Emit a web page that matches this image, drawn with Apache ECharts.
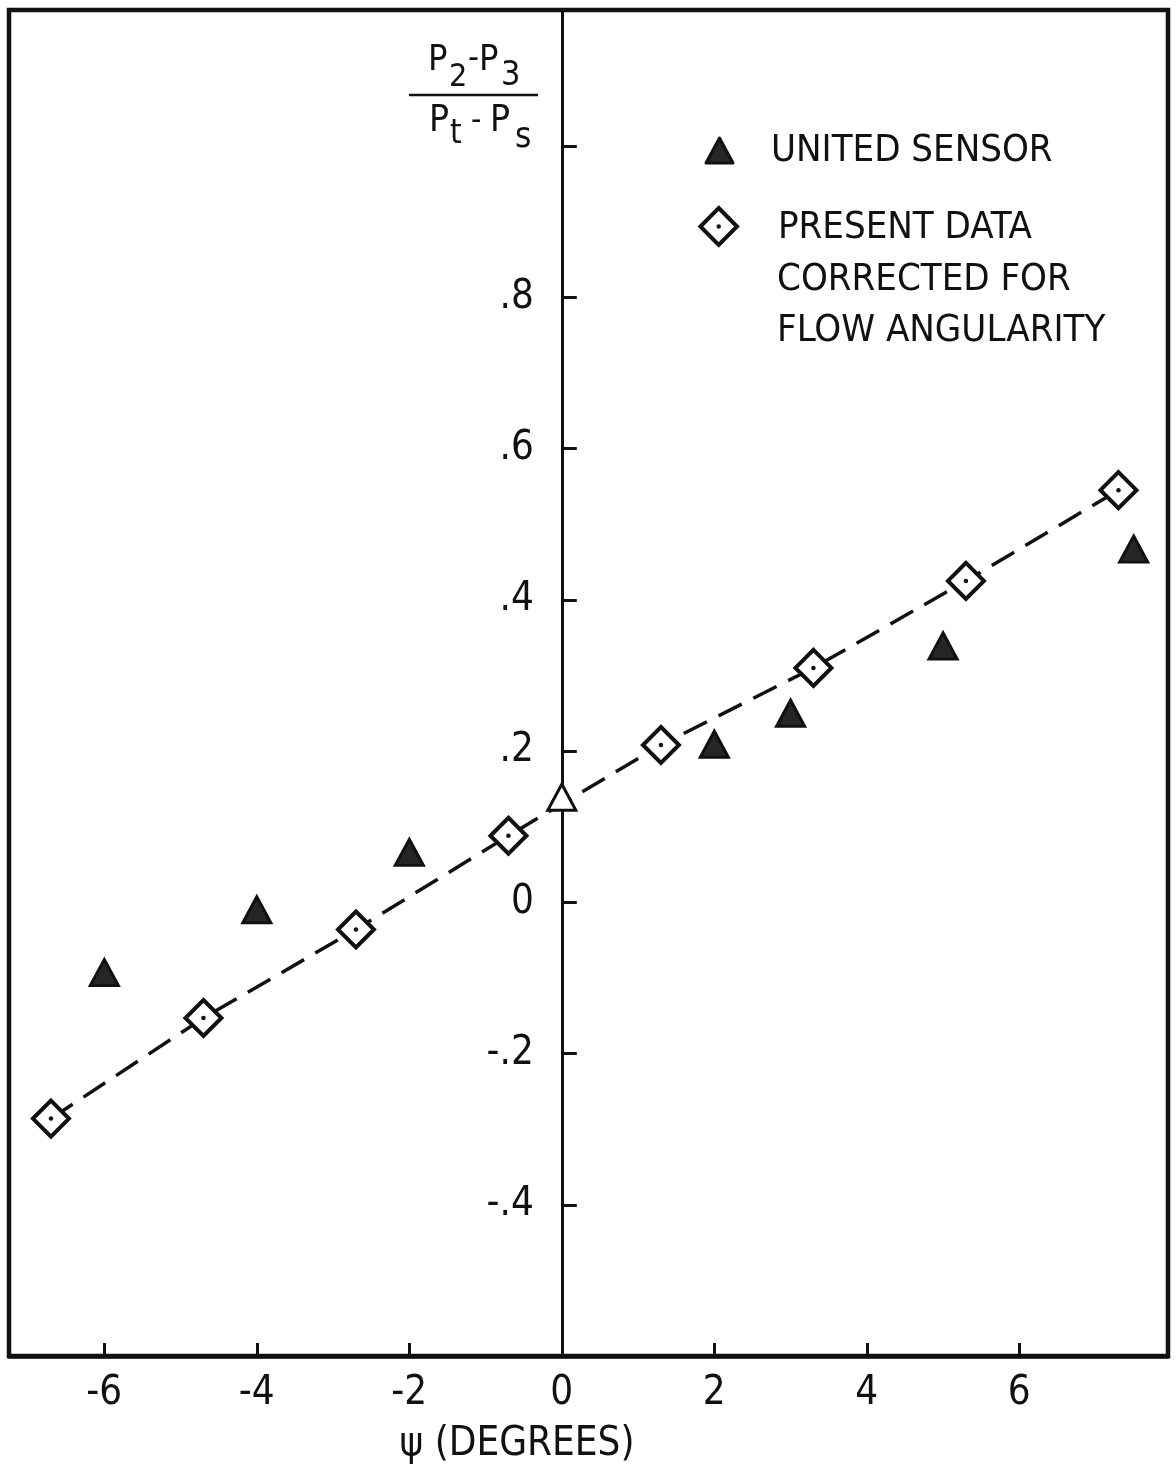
<!DOCTYPE html>
<html>
<head>
<meta charset="utf-8">
<title>Differential pressure coefficient vs flow angle</title>
<script src="https://cdn.jsdelivr.net/npm/echarts@6/dist/echarts.min.js"></script>
<style>
  html, body { margin: 0; padding: 0; background: #fff; }
  #chart { width: 1176px; height: 1469px; }
</style>
</head>
<body>
<div id="chart"></div>
<script>
// United Sensor probe readings: psi (deg) and (P2-P3)/(Pt-Ps)
const unitedPsi = [-6, -4, -2, 0, 2, 3, 5, 7.5];
const unitedCoef = [-0.093, -0.010, 0.066, 0.139, 0.209, 0.250, 0.339, 0.467];

// Present data, corrected for flow angularity
const presentPsi = [-6.7, -4.7, -2.7, -0.7, 1.3, 3.3, 5.3, 7.3];
const presentCoef = [-0.286, -0.153, -0.036, 0.088, 0.208, 0.310, 0.425, 0.545];

// Axis ticks and labels
const xTicks = [-6, -4, -2, 0, 2, 4, 6];
const yTicks = [-0.4, -0.2, 0, 0.2, 0.4, 0.6, 0.8, 1.0];
const yLabels = [-0.4, -0.2, 0, 0.2, 0.4, 0.6, 0.8];

const FONT = "'DejaVu Sans Condensed', 'Liberation Sans Narrow', 'DejaVu Sans', sans-serif";

const X_MIN = -7.25, X_MAX = 7.95;
const Y_MIN = -0.6, Y_MAX = 1.18;
const GRID = { left: 9, top: 10, width: 1159, height: 1346 };

const unitedData = unitedPsi.map((x, i) => [x, unitedCoef[i]]);
const presentData = presentPsi.map((x, i) => [x, presentCoef[i]]);

// the vertical axis is drawn through psi = 0
const yAxisShift = -((0 - X_MIN) / (X_MAX - X_MIN)) * GRID.width;

function fmtY(v) {
  if (Math.abs(v) < 1e-9) return '0';
  const s = Math.abs(v).toFixed(1).replace(/^0/, '');
  return (v < 0 ? '-' : '') + s;
}

const chart = echarts.init(document.getElementById('chart'), null, { renderer: 'canvas' });

const txt = (text, x, y, size, align) => ({
  type: 'text',
  x: x, y: y,
  silent: true,
  style: {
    text: text,
    fill: '#111',
    font: size + 'px ' + FONT,
    textAlign: align || 'left',
    textVerticalAlign: 'middle'
  }
});

chart.setOption({
  animation: false,
  backgroundColor: '#fff',
  textStyle: { fontFamily: FONT, color: '#111' },
  grid: {
    left: GRID.left, top: GRID.top, width: GRID.width, height: GRID.height,
    containLabel: false,
    outerBoundsMode: 'none',
    show: true, borderColor: '#111', borderWidth: 4.5,
    backgroundColor: 'transparent'
  },
  xAxis: {
    type: 'value',
    min: X_MIN, max: X_MAX,
    position: 'bottom',
    axisLine: { onZero: false, lineStyle: { color: '#111', width: 4.5 } },
    axisTick: { inside: true, length: 13, customValues: xTicks, lineStyle: { color: '#111', width: 3 } },
    axisLabel: { customValues: xTicks, fontSize: 40, color: '#111', margin: 18, fontFamily: FONT },
    splitLine: { show: false }
  },
  yAxis: {
    type: 'value',
    min: Y_MIN, max: Y_MAX,
    position: 'left',
    offset: yAxisShift,
    axisLine: { show: true, onZero: false, lineStyle: { color: '#111', width: 3 } },
    axisTick: { show: true, inside: true, length: 15, customValues: yTicks, lineStyle: { color: '#111', width: 3 } },
    axisLabel: { customValues: yLabels, formatter: fmtY, fontSize: 40, color: '#111', margin: 28, fontFamily: FONT },
    splitLine: { show: false }
  },
  series: [
    {
      name: 'PRESENT DATA',
      type: 'line',
      data: presentData,
      symbol: 'diamond',
      symbolSize: 36,
      showAllSymbol: true,
      lineStyle: { color: '#111', width: 3.5, type: [26, 13] },
      itemStyle: { color: '#fff', borderColor: '#111', borderWidth: 4, opacity: 1 },
      z: 3
    },
    {
      name: 'PRESENT DATA center',
      type: 'scatter',
      data: presentData,
      symbol: 'circle',
      symbolSize: 4.5,
      itemStyle: { color: '#111', opacity: 1 },
      z: 4
    },
    {
      name: 'UNITED SENSOR',
      type: 'scatter',
      data: unitedData,
      symbol: 'triangle',
      symbolSize: [28, 26],
      itemStyle: {
        color: p => (p.value[0] === 0 ? '#fff' : '#262626'),
        borderColor: '#111',
        borderWidth: 3,
        opacity: 1
      },
      z: 5
    }
  ],
  graphic: [
    // y-axis quantity written as a fraction
    txt('P', 428, 61, 36),
    txt('2', 449, 78, 32),
    txt('-', 468, 59, 34),
    txt('P', 479, 61, 36),
    txt('3', 501, 76, 34),
    {
      type: 'line', silent: true,
      shape: { x1: 409, y1: 95, x2: 538, y2: 95 },
      style: { stroke: '#111', lineWidth: 2.5 }
    },
    txt('P', 429, 121, 37),
    txt('t', 450, 134, 33),
    txt('-', 471, 122, 32),
    txt('P', 490, 121, 37),
    txt('s', 515, 138, 35),

    // x-axis title
    txt('\u03c8 (DEGREES)', 517, 1445, 40, 'center'),

    // key
    {
      type: 'polygon', silent: true,
      shape: { points: [[706, 163], [733, 163], [719.5, 138]] },
      style: { fill: '#262626', stroke: '#111', lineWidth: 3, lineJoin: 'round' }
    },
    txt('UNITED SENSOR', 771, 151, 38),
    {
      type: 'polygon', silent: true,
      shape: { points: [[718.7, 208], [737, 226.5], [718.7, 245], [700.4, 226.5]] },
      style: { fill: '#fff', stroke: '#111', lineWidth: 4 }
    },
    {
      type: 'circle', silent: true,
      shape: { cx: 718.7, cy: 226.5, r: 2.2 },
      style: { fill: '#111' }
    },
    txt('PRESENT DATA', 778, 228, 38),
    txt('CORRECTED FOR', 777, 280, 38),
    txt('FLOW ANGULARITY', 777, 331, 38)
  ]
});
</script>
</body>
</html>
